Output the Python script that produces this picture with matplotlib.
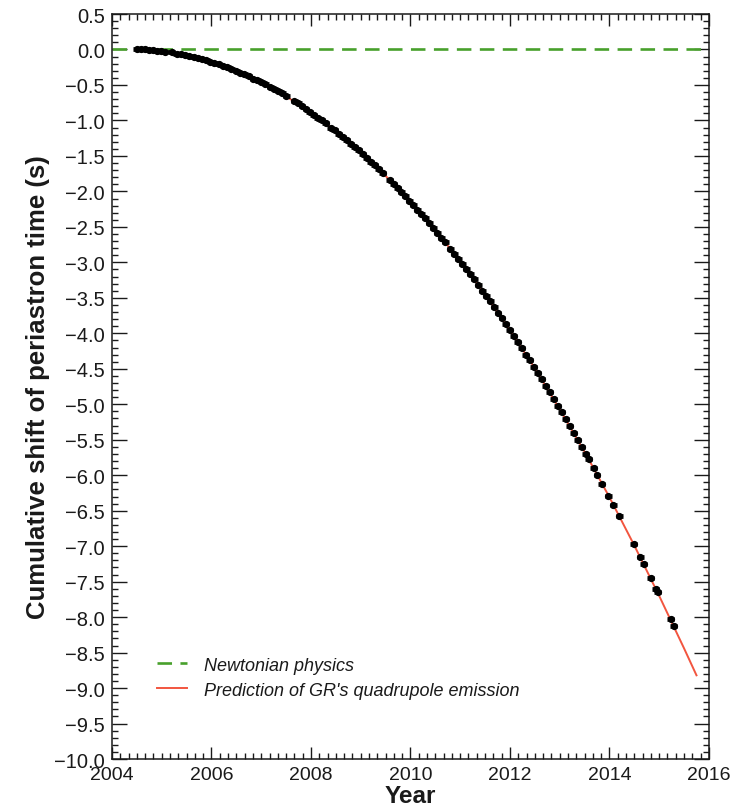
"""Cumulative shift of periastron time: timing data vs. GR quadrupole prediction."""

import matplotlib

matplotlib.use("Agg")
import matplotlib.pyplot as plt
from matplotlib.ticker import MultipleLocator, FuncFormatter

plt.rcParams["font.family"] = ["Liberation Sans", "DejaVu Sans"]

# GR prediction
curve_year = [2004.5, 2005.0, 2005.5, 2006.0, 2006.5, 2007.0, 2007.5, 2008.0,
              2008.5, 2009.0, 2009.5, 2010.0, 2010.5, 2011.0, 2011.5, 2012.0,
              2012.5, 2013.0, 2013.5, 2014.0, 2014.5, 2015.0, 2015.5, 2015.75]
curve_shift = [-0.00, -0.02, -0.08, -0.18, -0.30, -0.46, -0.66, -0.89,
               -1.15, -1.45, -1.78, -2.15, -2.55, -2.98, -3.45, -3.96,
               -4.49, -5.07, -5.67, -6.31, -6.99, -7.70, -8.44, -8.82]

# measured points (black)
obs_year = [
    2004.50, 2004.58, 2004.66, 2004.74, 2004.82, 2004.90, 2004.98, 2005.06,
    2005.20, 2005.30, 2005.38, 2005.46, 2005.55, 2005.64, 2005.72, 2005.80,
    2005.90, 2005.98, 2006.06, 2006.15, 2006.24, 2006.32, 2006.40, 2006.50,
    2006.58, 2006.66, 2006.75, 2006.84, 2006.92, 2007.00, 2007.08, 2007.18,
    2007.26, 2007.34, 2007.42, 2007.50, 2007.66, 2007.74, 2007.82, 2007.90,
    2007.98, 2008.06, 2008.14, 2008.22, 2008.30, 2008.40, 2008.48, 2008.56,
    2008.64, 2008.72, 2008.80, 2008.88, 2008.96, 2009.04, 2009.12, 2009.20,
    2009.28, 2009.36, 2009.44, 2009.58, 2009.66, 2009.74, 2009.82, 2009.90,
    2009.98, 2010.06, 2010.14, 2010.22, 2010.30, 2010.38, 2010.46, 2010.54,
    2010.62, 2010.70, 2010.80, 2010.88, 2010.96, 2011.04, 2011.12, 2011.20,
    2011.28, 2011.36, 2011.44, 2011.52, 2011.60, 2011.68, 2011.76, 2011.84,
    2011.92, 2012.00, 2012.08, 2012.16, 2012.24, 2012.32, 2012.40, 2012.48,
    2012.56, 2012.64, 2012.72, 2012.80, 2012.88, 2012.96, 2013.04, 2013.12,
    2013.20, 2013.28, 2013.36, 2013.44, 2013.52, 2013.58, 2013.68, 2013.75,
    2013.85, 2013.98, 2014.08, 2014.20, 2014.49, 2014.62, 2014.69, 2014.83,
    2014.93, 2014.97, 2015.23, 2015.29,
]
obs_shift = [
    -0.00, -0.00, -0.00, -0.01, -0.01, -0.02, -0.02, -0.03,
    -0.04, -0.06, -0.07, -0.08, -0.09, -0.11, -0.12, -0.13,
    -0.15, -0.17, -0.19, -0.21, -0.23, -0.25, -0.27, -0.30,
    -0.33, -0.35, -0.38, -0.41, -0.43, -0.46, -0.49, -0.53,
    -0.56, -0.59, -0.62, -0.66, -0.73, -0.76, -0.80, -0.84,
    -0.88, -0.92, -0.96, -1.00, -1.04, -1.10, -1.14, -1.19,
    -1.23, -1.28, -1.33, -1.37, -1.42, -1.47, -1.53, -1.58,
    -1.63, -1.69, -1.74, -1.84, -1.90, -1.95, -2.01, -2.07,
    -2.13, -2.19, -2.26, -2.32, -2.38, -2.45, -2.52, -2.58,
    -2.65, -2.72, -2.81, -2.88, -2.95, -3.02, -3.09, -3.17,
    -3.24, -3.32, -3.40, -3.47, -3.55, -3.63, -3.71, -3.79,
    -3.87, -3.96, -4.04, -4.12, -4.21, -4.30, -4.38, -4.47,
    -4.56, -4.65, -4.74, -4.83, -4.93, -5.02, -5.11, -5.21,
    -5.30, -5.40, -5.50, -5.60, -5.70, -5.77, -5.90, -5.99,
    -6.12, -6.29, -6.42, -6.58, -6.97, -7.15, -7.25, -7.45,
    -7.60, -7.65, -8.03, -8.12,
]
obs_span = 0.07  # half-width of the horizontal bars, years

GREEN = "#48a02c"
RED = "#f2553f"
INK = "#1a1a1a"

fig = plt.figure(figsize=(7.49, 8.12), dpi=100)
ax = fig.add_axes([0.1495, 0.064, 0.797, 0.9175])

ax.axhline(0.0, color=GREEN, lw=1.9, dashes=(5.5, 3.2), label="Newtonian physics", zorder=2)
ax.plot(curve_year, curve_shift, color=RED, lw=1.4, label="Prediction of GR's quadrupole emission", zorder=3)
ax.errorbar(obs_year, obs_shift, xerr=obs_span, fmt="o", ms=4.2, color="black",
            ecolor="black", elinewidth=3.4, capsize=0, zorder=4)

ax.set_xlim(2004, 2016)
ax.set_ylim(-10, 0.5)
ax.xaxis.set_major_locator(MultipleLocator(2))
ax.xaxis.set_minor_locator(MultipleLocator(1 / 6))
ax.yaxis.set_major_locator(MultipleLocator(0.5))
ax.yaxis.set_minor_locator(MultipleLocator(0.1))
ax.yaxis.set_major_formatter(FuncFormatter(lambda v, _: f"{v:.1f}".replace("-", "\u2212")))

ax.tick_params(which="both", direction="in", top=True, right=True, color=INK, width=1.0)
ax.tick_params(axis="x", which="major", length=8.5, labelsize=14, pad=5, labelcolor=INK)
ax.tick_params(axis="y", which="major", length=10.5, labelsize=14.5, pad=5, labelcolor=INK)
ax.tick_params(which="minor", length=4.5)
for s in ax.spines.values():
    s.set_color(INK)
    s.set_linewidth(1.1)

ax.set_xlabel("Year", fontsize=17.5, fontweight="bold", labelpad=1, color=INK)
ax.set_ylabel("Cumulative shift of periastron time (s)", fontsize=18.5, fontweight="bold", color=INK)
ax.yaxis.set_label_coords(-0.103, 0.5)

leg = ax.legend(loc="lower left", bbox_to_anchor=(0.075, 0.081), frameon=False,
                prop={"size": 13, "style": "italic"}, handlelength=1.7, handletextpad=0.9,
                labelspacing=0.45, borderpad=0, borderaxespad=0)
for t in leg.get_texts():
    t.set_color(INK)

fig.savefig("out.png", dpi=100, facecolor="white")
